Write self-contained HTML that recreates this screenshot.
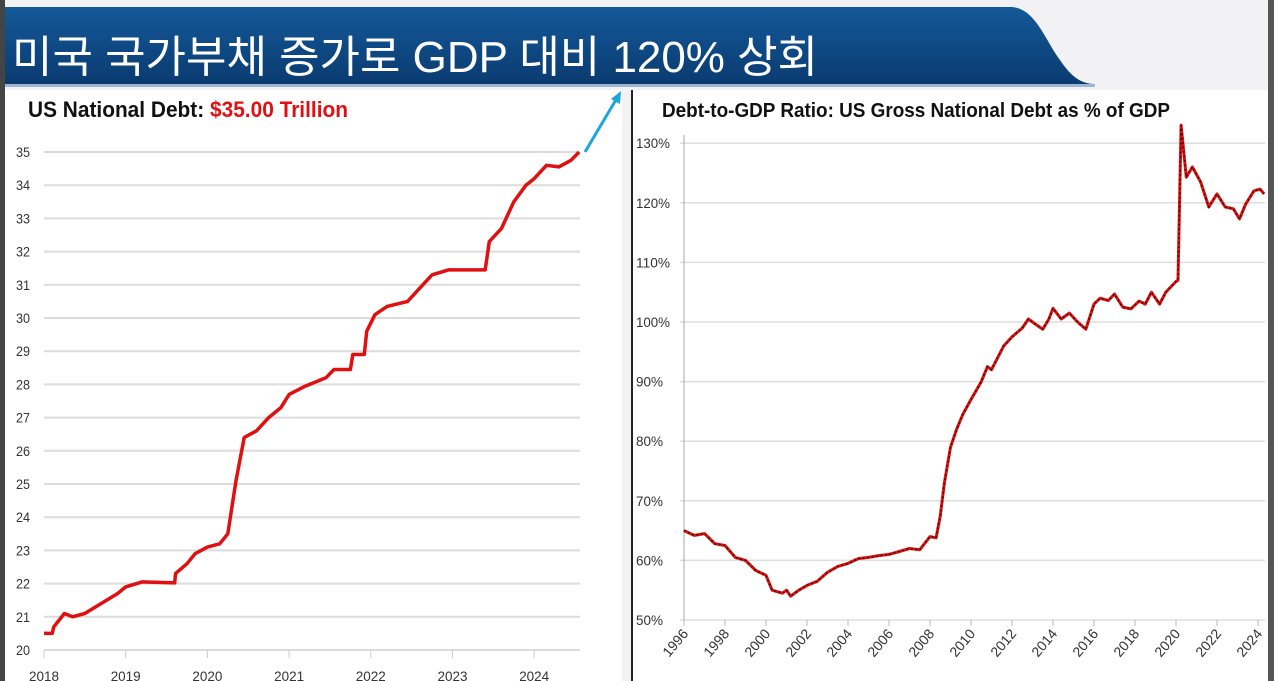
<!DOCTYPE html>
<html><head><meta charset="utf-8"><style>
body{margin:0;width:1274px;height:681px;overflow:hidden;background:#f2f2f4;position:relative;font-family:"Liberation Sans","Noto Sans CJK KR",sans-serif}
.abs{position:absolute}
</style></head><body>
<div class="abs" style="left:0;top:0;width:5px;height:681px;background:#444"></div>
<svg class="abs" style="left:0;top:0" width="1274" height="90">
<defs><linearGradient id="bg" x1="0" y1="0" x2="0" y2="1"><stop offset="0" stop-color="#14599a"/><stop offset="1" stop-color="#0a3b70"/></linearGradient></defs>
<path d="M5 7 L1010 7 C1035 7 1045 40 1060 60 C1070 75 1080 84 1095 84 L5 84 Z" fill="url(#bg)"/>
<rect x="5" y="84" width="1090" height="3" fill="#9bb7d4"/>
<text x="12" y="72" fill="#fff" font-size="44" textLength="806" lengthAdjust="spacingAndGlyphs" font-family="'Liberation Sans','Noto Sans CJK KR',sans-serif">미국 국가부채 증가로 GDP 대비 120% 상회</text>
</svg>
<div class="abs" style="left:5px;top:90px;width:617px;height:591px;background:#fff"></div>
<div class="abs" style="left:631px;top:90px;width:2px;height:591px;background:#222"></div>
<div class="abs" style="left:633px;top:90px;width:635px;height:591px;background:#fff"></div>
<div class="abs" style="left:1268px;top:0;width:6px;height:681px;background:#555"></div>
<svg class="abs" id="c" style="left:0;top:0" width="1274" height="681"></svg>
<script>
const debtYears=[2018.0,2018.1,2018.12,2018.25,2018.35,2018.5,2018.7,2018.9,2019.0,2019.2,2019.6,2019.61,2019.75,2019.85,2020.0,2020.15,2020.25,2020.3,2020.35,2020.45,2020.6,2020.75,2020.9,2021.0,2021.2,2021.45,2021.55,2021.75,2021.78,2021.92,2021.95,2022.05,2022.2,2022.45,2022.6,2022.75,2022.95,2023.4,2023.45,2023.6,2023.75,2023.9,2024.0,2024.15,2024.3,2024.45,2024.55];
const debtValues=[20.5,20.5,20.7,21.1,21.0,21.1,21.4,21.7,21.9,22.05,22.02,22.3,22.6,22.9,23.1,23.2,23.5,24.3,25.1,26.4,26.6,27.0,27.3,27.7,27.95,28.2,28.45,28.45,28.9,28.9,29.6,30.1,30.35,30.5,30.9,31.3,31.45,31.45,32.3,32.7,33.5,34.0,34.2,34.6,34.55,34.75,35.0];
const debtTicks=[20,21,22,23,24,25,26,27,28,29,30,31,32,33,34,35];
const debtYearTicks=[2018,2019,2020,2021,2022,2023,2024];
const ratioYears=[1996,1996.5,1997,1997.5,1998,1998.5,1999,1999.5,2000,2000.3,2000.8,2001,2001.2,2001.6,2002,2002.5,2003,2003.5,2004,2004.5,2005,2005.5,2006,2006.5,2007,2007.5,2008,2008.3,2008.5,2008.7,2009,2009.3,2009.6,2010,2010.5,2010.8,2011,2011.3,2011.6,2012,2012.5,2012.8,2013.2,2013.5,2013.8,2014,2014.4,2014.8,2015.2,2015.6,2016,2016.3,2016.7,2017,2017.4,2017.8,2018.2,2018.5,2018.8,2019.2,2019.5,2020,2020.1,2020.25,2020.5,2020.8,2021.2,2021.6,2022,2022.4,2022.8,2023.1,2023.4,2023.8,2024.1,2024.3];
const ratioValues=[65,64.2,64.5,62.8,62.5,60.5,60,58.3,57.5,55,54.5,55,54,55,55.8,56.5,58,59,59.5,60.3,60.5,60.8,61,61.5,62,61.8,64,63.8,67.5,73,79,82,84.5,87,90,92.5,92,94,96,97.5,99,100.5,99.5,98.8,100.5,102.3,100.5,101.5,100,98.8,103,104,103.6,104.7,102.5,102.2,103.5,103,105,103,105,106.8,107,133,124.3,126,123.5,119.3,121.5,119.3,119,117.3,119.8,122,122.3,121.5];
const ratioTicks=[50,60,70,80,90,100,110,120,130];
const ratioYearTicks=[1996,1998,2000,2002,2004,2006,2008,2010,2012,2014,2016,2018,2020,2022,2024];
const svg=document.getElementById('c');const NS='http://www.w3.org/2000/svg';
function mk(t,a,txt){const e=document.createElementNS(NS,t);for(const k in a)e.setAttribute(k,a[k]);if(txt!==undefined)e.textContent=txt;svg.appendChild(e);return e;}
const lx=y=>44+(y-2018)*81.7, ly=v=>650-(v-20)*33.2;
const rx=y=>684+(y-1996)*20.5, ry=v=>620-(v-50)*5.96;
const NF="'Liberation Sans',sans-serif";
let e;
e=mk('text',{x:28,y:117,'font-size':22,'font-weight':'bold','font-family':NF,fill:'#111',textLength:320,lengthAdjust:'spacingAndGlyphs'});

e.innerHTML='US National Debt: <tspan fill="#e01010">$35.00 Trillion</tspan>';
debtTicks.forEach(v=>{
 e=mk('line',{x1:44,x2:580,y1:ly(v),y2:ly(v),stroke:'#dcdcdc','stroke-width':2});
 
 e=mk('text',{x:16,y:ly(v)+5,'font-size':14,'font-family':NF,fill:'#333',textLength:14,lengthAdjust:'spacingAndGlyphs'},v);
 
});
debtYearTicks.forEach(y=>{
 e=mk('line',{x1:lx(y),x2:lx(y),y1:650,y2:658,stroke:'#ccc'});
 
 e=mk('text',{x:lx(y)-15,y:681,'font-size':14,'font-family':NF,fill:'#333',textLength:30,lengthAdjust:'spacingAndGlyphs'},y);
 
});
let d='';debtYears.forEach((y,i)=>{d+=(i?'L':'M')+lx(y).toFixed(1)+' '+ly(debtValues[i]).toFixed(1);});
e=mk('path',{d:d,fill:'none',stroke:'#e01010','stroke-width':3.5,'stroke-linejoin':'round'});

e=mk('line',{x1:585,y1:152,x2:617,y2:98,stroke:'#1ea6dc','stroke-width':3});

e=mk('polygon',{points:'621,91 620,104 611,99',fill:'#1ea6dc'});

e=mk('text',{x:662,y:117,'font-size':20,'font-weight':'bold','font-family':NF,fill:'#111',textLength:508,lengthAdjust:'spacingAndGlyphs'},'Debt-to-GDP Ratio: US Gross National Debt as % of GDP');

ratioTicks.forEach(v=>{
 e=mk('line',{x1:680,x2:1265,y1:ry(v),y2:ry(v),stroke:'#dedede','stroke-width':1.5});
 
 e=mk('text',{x:636,y:ry(v)+5,'font-size':14,'font-family':NF,fill:'#333',textLength:v>=100?34:27,lengthAdjust:'spacingAndGlyphs'},v+'%');
 
});
e=mk('line',{x1:684,x2:684,y1:135,y2:622,stroke:'#aaa'});

ratioYearTicks.forEach(y=>{
 e=mk('line',{x1:rx(y),x2:rx(y),y1:620,y2:626,stroke:'#bbb'});
 
 e=mk('text',{x:rx(y)+5,y:634,'font-size':14,'font-family':NF,fill:'#333','text-anchor':'end',transform:'rotate(-50 '+(rx(y)+5)+' 634)'},y);
 
});
d='';ratioYears.forEach((y,i)=>{d+=(i?'L':'M')+rx(y).toFixed(1)+' '+ry(ratioValues[i]).toFixed(1);});
e=mk('path',{d:d,fill:'none',stroke:'#d81010','stroke-width':3,'stroke-linejoin':'round'});

e=mk('path',{d:d,fill:'none',stroke:'#2a0000','stroke-width':1.5,'stroke-dasharray':'1.5 3'});

</script>
</body></html>
